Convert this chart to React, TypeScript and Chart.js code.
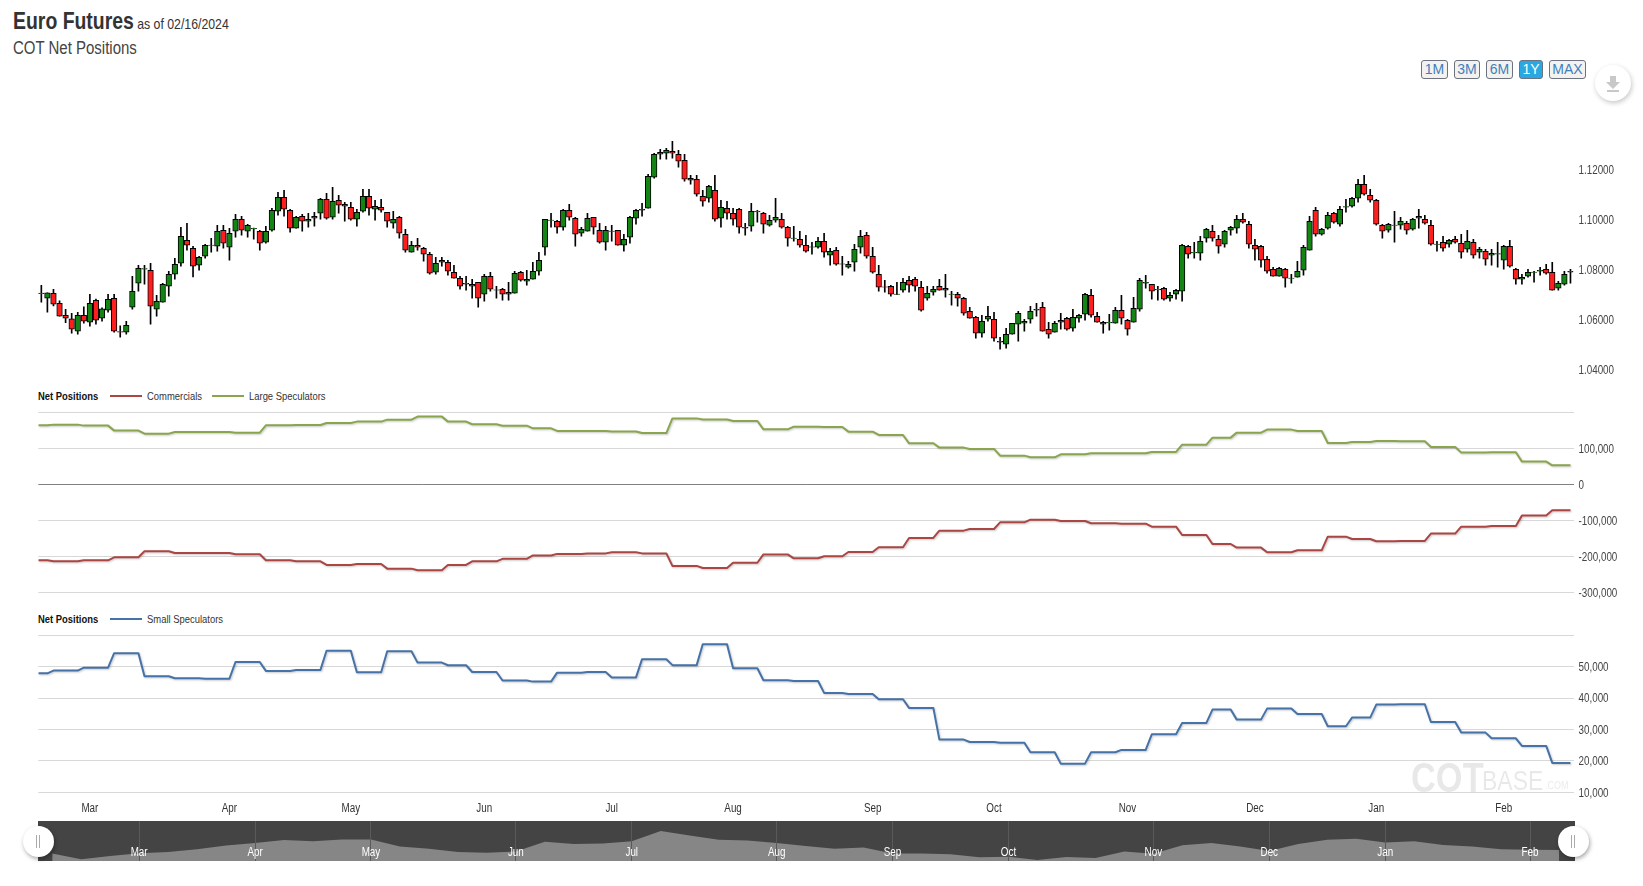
import React, { useEffect, useRef } from "react";
import { Chart, registerables } from "chart.js";

Chart.register(...registerables);

const FONT = '"Liberation Sans", Arial, sans-serif';
const NARROW = 0.82;

const opens = [
1.0705,1.0687,1.0707,1.0667,1.0619,1.0605,1.0555,1.0619,1.0591,1.0679,
1.0607,1.0639,1.0687,1.0554,1.0551,1.0651,1.0747,1.0803,1.0799,1.0643,
1.0671,1.0735,1.0783,1.0827,1.0919,1.0887,1.0819,1.0855,1.0898,1.0895,
1.0959,1.0891,1.0955,1.1003,1.0955,1.0964,1.0955,1.0911,1.0959,1.1035,
1.1091,1.1039,1.0967,1.1015,1.0995,1.1007,1.1027,1.1083,1.1011,1.1079,
1.1063,1.1051,1.1003,1.1035,1.1095,1.1043,1.1051,1.1031,1.0987,1.1011,
1.0943,1.0871,1.0899,1.0887,1.0863,1.0791,1.0831,1.0831,1.0791,1.0767,
1.0747,1.0743,1.0751,1.0703,1.0775,1.0719,1.0723,1.0703,1.0707,1.0791,
1.0755,1.0763,1.0795,1.0891,1.0998,1.0995,1.0971,1.1039,1.1007,1.0947,
1.0955,1.1011,1.0959,1.0911,1.0954,1.0959,1.0899,1.0931,1.1007,1.1039,
1.1047,1.1171,1.1263,1.1267,1.1275,1.1263,1.1239,1.1167,1.1163,1.1095,
1.1087,1.1119,1.1007,1.1047,1.1027,1.1043,1.0971,1.0975,1.1032,1.1027,
1.0979,1.0999,1.1003,1.0971,1.0926,1.0923,1.0899,1.0891,1.0891,1.0915,
1.0859,1.0879,1.0823,1.0811,1.0831,1.0891,1.0939,1.0855,1.0783,1.0733,
1.0735,1.0702,1.0719,1.0759,1.0763,1.0731,1.0687,1.0711,1.0735,1.0719,
1.0702,1.0703,1.0687,1.0635,1.0611,1.0547,1.0603,1.0603,1.0511,1.0503,
1.0543,1.0583,1.0587,1.0603,1.0639,1.0651,1.0563,1.0551,1.0591,1.0607,
1.0567,1.0607,1.0623,1.0699,1.0615,1.0591,1.0588,1.0587,1.0639,1.0599,
1.0591,1.0643,1.0747,1.0743,1.0723,1.0727,1.0687,1.0703,1.0715,1.0895,
1.0868,1.0867,1.0927,1.0955,1.0923,1.0903,1.0959,1.0967,1.1003,1.0983,
1.0899,1.0895,1.0843,1.0803,1.0775,1.0803,1.0766,1.0771,1.0799,1.0879,
1.1039,1.0943,1.0967,1.1027,1.0983,1.1051,1.1055,1.1087,1.1143,1.1099,
1.1079,1.0979,1.0959,1.0978,1.0979,1.0987,1.0963,1.1007,1.1003,1.0979,
1.0902,1.0911,1.0903,1.0923,1.0907,1.0883,1.0911,1.0871,1.0875,1.0859,
1.0863,1.0839,1.0895,1.0803,1.0763,1.0775,1.0790,1.0795,1.0803,1.0791,
1.0727,1.0743,1.0791];

const closes = [
1.0708,1.0709,1.0663,1.0615,1.0607,1.0563,1.0619,1.0595,1.0667,1.0599,
1.0645,1.0683,1.0555,1.0551,1.0579,1.0715,1.0807,1.0806,1.0655,1.0675,
1.0743,1.0783,1.0823,1.0935,1.0899,1.0815,1.0851,1.0899,1.0900,1.0955,
1.0907,1.0947,1.1003,1.0959,1.0979,1.0967,1.0907,1.0955,1.1039,1.1091,
1.1043,1.0967,1.1011,1.0995,1.1003,1.1015,1.1083,1.1007,1.1075,1.1059,
1.1055,1.1003,1.1031,1.1095,1.1047,1.1055,1.1039,1.0995,1.1003,1.0947,
1.0879,1.0899,1.0891,1.0863,1.0787,1.0827,1.0839,1.0795,1.0767,1.0735,
1.0743,1.0735,1.0687,1.0775,1.0723,1.0721,1.0703,1.0711,1.0787,1.0759,
1.0763,1.0795,1.0839,1.1003,1.1000,1.0971,1.1039,1.1011,1.0943,1.0963,
1.1007,1.0971,1.0911,1.0959,1.0956,1.0899,1.0923,1.1011,1.1039,1.1043,
1.1175,1.1263,1.1271,1.1279,1.1267,1.1235,1.1163,1.1159,1.1103,1.1075,
1.1135,1.1003,1.1051,1.1027,1.1003,1.0971,1.0967,1.1035,1.1035,1.0983,
1.0999,1.1011,1.0971,1.0927,1.0928,1.0899,1.0875,1.0893,1.0915,1.0871,
1.0875,1.0823,1.0825,1.0823,1.0883,1.0935,1.0855,1.0791,1.0731,1.0731,
1.0703,1.0704,1.0751,1.0739,1.0735,1.0639,1.0707,1.0723,1.0719,1.0727,
1.0704,1.0687,1.0627,1.0607,1.0547,1.0595,1.0615,1.0527,1.0515,1.0543,
1.0587,1.0627,1.0595,1.0635,1.0643,1.0555,1.0543,1.0587,1.0599,1.0563,
1.0611,1.0619,1.0703,1.0619,1.0591,1.0583,1.0591,1.0639,1.0607,1.0563,
1.0647,1.0759,1.0751,1.0715,1.0720,1.0683,1.0699,1.0719,1.0899,1.0863,
1.0871,1.0915,1.0963,1.0927,1.0895,1.0955,1.0971,1.1003,1.0991,1.0903,
1.0883,1.0839,1.0795,1.0775,1.0807,1.0767,1.0768,1.0795,1.0891,1.0995,
1.0943,1.0963,1.1019,1.0991,1.1043,1.1054,1.1087,1.1143,1.1103,1.1079,
1.0983,1.0955,1.0983,1.0980,1.0995,1.0959,1.1003,1.1015,1.0987,1.0903,
1.0904,1.0887,1.0919,1.0911,1.0871,1.0915,1.0859,1.0883,1.0843,1.0867,
1.0866,1.0895,1.0815,1.0763,1.0771,1.0791,1.0792,1.0799,1.0787,1.0719,
1.0747,1.0783,1.0795];

const highs = [
1.0739,1.0709,1.0723,1.0677,1.0643,1.0627,1.0631,1.0653,1.0703,1.0684,
1.0649,1.0703,1.0703,1.0577,1.0595,1.0775,1.0819,1.0819,1.0827,1.0699,
1.0747,1.0795,1.0847,1.0971,1.0987,1.0895,1.0855,1.0903,1.0927,1.0979,
1.0979,1.0967,1.1023,1.1015,1.0983,1.0968,1.0959,1.0975,1.1047,1.1111,
1.1119,1.1043,1.1015,1.1023,1.1027,1.1031,1.1087,1.1107,1.1131,1.1099,
1.1071,1.1071,1.1043,1.1123,1.1123,1.1079,1.1083,1.1031,1.1035,1.1015,
1.0963,1.0915,1.0927,1.0891,1.0871,1.0851,1.0851,1.0839,1.0819,1.0775,
1.0775,1.0763,1.0751,1.0783,1.0791,1.0735,1.0727,1.0751,1.0795,1.0795,
1.0799,1.0831,1.0871,1.1003,1.1027,1.0999,1.1043,1.1063,1.1011,1.0971,
1.1027,1.1011,1.0987,1.0975,1.0979,1.0959,1.0943,1.1015,1.1043,1.1067,
1.1183,1.1267,1.1283,1.1287,1.1315,1.1279,1.1263,1.1179,1.1179,1.1119,
1.1139,1.1179,1.1079,1.1075,1.1047,1.1047,1.0987,1.1067,1.1039,1.1031,
1.1019,1.1087,1.1027,1.0975,1.0975,1.0955,1.0939,1.0911,1.0931,1.0947,
1.0887,1.0891,1.0855,1.0835,1.0903,1.0959,1.0951,1.0891,1.0819,1.0759,
1.0739,1.0751,1.0767,1.0775,1.0771,1.0755,1.0735,1.0735,1.0763,1.0783,
1.0715,1.0711,1.0691,1.0651,1.0615,1.0619,1.0655,1.0631,1.0531,1.0567,
1.0587,1.0635,1.0603,1.0655,1.0667,1.0671,1.0591,1.0595,1.0627,1.0611,
1.0643,1.0623,1.0707,1.0723,1.0631,1.0595,1.0623,1.0651,1.0699,1.0603,
1.0691,1.0767,1.0779,1.0743,1.0735,1.0731,1.0711,1.0723,1.0903,1.0899,
1.0911,1.0935,1.0967,1.0979,1.0939,1.0959,1.0975,1.1019,1.1027,1.0995,
1.0923,1.0899,1.0855,1.0811,1.0811,1.0807,1.0783,1.0835,1.0899,1.1015,
1.1051,1.0967,1.1031,1.1031,1.1055,1.1083,1.1091,1.1163,1.1179,1.1123,
1.1083,1.0983,1.0987,1.1035,1.1011,1.0995,1.1007,1.1043,1.1019,1.0999,
1.0915,1.0935,1.0923,1.0935,1.0943,1.0959,1.0923,1.0891,1.0883,1.0883,
1.0911,1.0899,1.0919,1.0807,1.0783,1.0803,1.0795,1.0811,1.0823,1.0831,
1.0755,1.0795,1.0803];

const lows = [
1.0671,1.0631,1.0656,1.0615,1.0589,1.0547,1.0543,1.0587,1.0575,1.0583,
1.0595,1.0631,1.0551,1.0531,1.0543,1.0643,1.0715,1.0743,1.0583,1.0615,
1.0671,1.0695,1.0763,1.0815,1.0879,1.0772,1.0799,1.0847,1.0871,1.0875,
1.0887,1.0839,1.0931,1.0939,1.0931,1.0923,1.0879,1.0907,1.0955,1.1019,
1.1015,1.0951,1.0967,1.0955,1.0971,1.0975,1.1003,1.1003,1.1003,1.1027,
1.0995,1.0999,1.0975,1.1031,1.1019,1.0999,1.1031,1.0971,1.0967,1.0927,
1.0871,1.0871,1.0879,1.0835,1.0783,1.0783,1.0815,1.0779,1.0767,1.0723,
1.0719,1.0687,1.0651,1.0675,1.0715,1.0687,1.0679,1.0679,1.0707,1.0755,
1.0739,1.0763,1.0779,1.0859,1.0971,1.0947,1.0959,1.0999,1.0895,1.0935,
1.0955,1.0943,1.0907,1.0879,1.0915,1.0899,1.0875,1.0907,1.0983,1.1015,
1.1047,1.1167,1.1243,1.1243,1.1247,1.1211,1.1155,1.1143,1.1095,1.1055,
1.1071,1.0995,1.0971,1.1003,1.0979,1.0947,1.0939,1.0955,1.0991,1.0947,
1.0975,1.0991,1.0967,1.0895,1.0915,1.0891,1.0871,1.0863,1.0887,1.0851,
1.0819,1.0819,1.0779,1.0807,1.0795,1.0867,1.0847,1.0787,1.0715,1.0711,
1.0695,1.0701,1.0711,1.0711,1.0715,1.0635,1.0679,1.0699,1.0719,1.0691,
1.0659,1.0655,1.0619,1.0607,1.0527,1.0531,1.0595,1.0515,1.0483,1.0487,
1.0543,1.0515,1.0555,1.0587,1.0615,1.0555,1.0527,1.0551,1.0563,1.0559,
1.0555,1.0591,1.0599,1.0611,1.0591,1.0547,1.0559,1.0587,1.0583,1.0539,
1.0591,1.0635,1.0727,1.0683,1.0679,1.0679,1.0675,1.0683,1.0675,1.0847,
1.0847,1.0839,1.0911,1.0915,1.0867,1.0891,1.0939,1.0947,1.0987,1.0887,
1.0839,1.0811,1.0787,1.0775,1.0775,1.0731,1.0747,1.0771,1.0779,1.0879,
1.0935,1.0939,1.0963,1.0987,1.0975,1.1031,1.1051,1.1071,1.1099,1.1071,
1.0979,1.0927,1.0951,1.0911,1.0963,1.0943,1.0959,1.0967,1.0983,1.0899,
1.0875,1.0875,1.0891,1.0907,1.0847,1.0871,1.0847,1.0847,1.0819,1.0819,
1.0811,1.0803,1.0811,1.0743,1.0743,1.0771,1.0751,1.0779,1.0783,1.0719,
1.0719,1.0739,1.0747];

const weekStarts = [-0.5,2,7,12,17,22,27,32,37,42,47,52,57,62,67,71,76,81,85,90,94,99,104,109,114,119,124,129,133,138,143,148,153,158,163,168,173,178,183,188,193,197,202,207,212,216,220,224,229,234,239,244,249];

const smallSpeculators = [47900,48760,49700,54300,46960,46300,46200,51500,48660,48980,55100,48230,54900,51300,50460,48300,45600,45250,48100,48300,46600,52400,50500,57150,49500,45700,45470,41650,41330,39630,36870,26780,26030,25800,22740,19130,22740,23490,28480,32090,36340,33150,36650,34960,31030,33790,37930,38040,32400,29010,27200,24760,19350];

const largeSpeculators = [163900,165750,163000,149100,140750,145400,145400,143500,163900,164800,170400,174100,179600,188000,174100,166700,162800,155500,148300,148300,146800,142400,183100,180200,175900,152600,160200,159300,146300,137000,113900,101900,98200,79600,75000,83300,86100,86100,89800,110200,129600,143500,151900,148200,114800,117600,120400,119500,103700,88000,88900,63000,52800];

const commercials = [-211100,-213900,-211100,-202800,-186100,-190800,-190800,-194500,-211100,-213900,-224100,-221300,-234300,-238900,-224100,-213900,-207000,-197700,-193300,-191900,-189000,-191900,-226700,-232600,-218000,-194800,-205600,-200000,-188000,-175000,-149100,-128700,-124100,-105600,-98200,-101900,-108300,-109300,-117600,-140800,-165800,-175900,-188900,-183300,-145400,-151900,-158300,-157400,-137000,-117600,-115700,-87000,-72200];

const navigatorCloses = [1.0709,1.0563,1.0645,1.0715,1.0743,1.0815,1.0907,1.0967,1.1043,1.1015,1.1055,1.1055,1.0879,1.0827,1.0743,1.0723,1.0759,1.1000,1.0943,1.0959,1.1011,1.1271,1.1159,1.1051,1.1035,1.0971,1.0893,1.0825,1.0855,1.0704,1.0707,1.0687,1.0615,1.0627,1.0543,1.0619,1.0591,1.0759,1.0699,1.0915,1.0971,1.0883,1.0767,1.0943,1.1054,1.1079,1.0980,1.1015,1.0919,1.0883,1.0815,1.0799,1.0795];

const monthLabels = ["Mar","Apr","May","Jun","Jul","Aug","Sep","Oct","Nov","Dec","Jan","Feb"];
const monthDayIndex = [8,31,51,73,94,114,137,157,179,200,220,241];
const monthWeekIndex = [3,7,11,16,20,25,29,33,38,42,46,51];
const priceTicks = [1.04,1.06,1.08,1.10,1.12];
const rangeButtons = ["1M","3M","6M","1Y","MAX"];

const GRID = "#D8D8D8";
const RED = "#AA4643";
const GREEN = "#89A54E";
const BLUE = "#4572A7";
const PLOT_LEFT = 38.3;
const AXIS_W = 69.5;
const X_MIN = -0.5;
const X_MAX = 252.5;

function weekly(values: number[]) {
  const pts: { x: number; y: number }[] = [];
  values.forEach((y, w) => {
    const end = w + 1 < weekStarts.length ? weekStarts[w + 1] - 1 : 252;
    pts.push({ x: weekStarts[w], y }, { x: end, y });
  });
  return pts;
}

// The reference text is a condensed face: every canvas label is squeezed around its anchor.
const narrowText = {
  id: "narrowText",
  beforeDraw(chart: any) {
    const c = chart.ctx;
    if (c.__narrow) return;
    c.__narrow = true;
    const orig = c.fillText.bind(c);
    c.fillText = (t: string, x: number, y: number) => {
      c.save();
      c.translate(x, y);
      c.scale(NARROW, 1);
      orig(t, 0, c.textAlign === "left" ? 1 : 0);
      c.restore();
    };
  },
};

const lineShadow = {
  id: "lineShadow",
  beforeDatasetDraw(chart: any) {
    const c = chart.ctx;
    c.save();
    c.shadowColor = "rgba(0,0,0,0.22)";
    c.shadowBlur = 2;
    c.shadowOffsetX = 1;
    c.shadowOffsetY = 1;
  },
  afterDatasetDraw(chart: any) {
    chart.ctx.restore();
  },
};

const navLabels = {
  id: "navLabels",
  afterDraw(chart: any) {
    const c = chart.ctx;
    const sx = chart.scales.x;
    c.save();
    c.font = `12px ${FONT}`;
    c.fillStyle = "#fff";
    c.textAlign = "center";
    c.textBaseline = "middle";
    monthLabels.forEach((m, i) => c.fillText(m, sx.getPixelForValue(monthWeekIndex[i]), 31.5));
    c.restore();
  },
};

const fixedWidth = (s: any) => {
  s.width = AXIS_W;
};

function lineSet(label: string, values: number[], color: string) {
  return {
    label,
    data: weekly(values),
    borderColor: color,
    backgroundColor: color,
    borderWidth: 2,
    pointRadius: 0,
    tension: 0,
    borderJoinStyle: "round" as const,
  };
}

const hiddenX = { type: "linear" as const, min: X_MIN, max: X_MAX, display: false, offset: false };
const tickFont = { family: FONT, size: 12 };

function yAxis(min: number, max: number, step: number, hideTop: boolean) {
  return {
    type: "linear" as const,
    position: "right" as const,
    min,
    max,
    afterFit: fixedWidth,
    border: { display: false },
    grid: {
      drawTicks: false,
      color: (c: any) => (c.tick && c.tick.value === 0 ? "#808080" : GRID),
      lineWidth: 1,
    },
    ticks: {
      stepSize: step,
      crossAlign: "near" as const,
      padding: 5,
      color: "#444",
      font: tickFont,
      callback: (v: any) => (hideTop && v === max ? "" : Number(v).toLocaleString("en-US")),
    },
  };
}

const base = { responsive: false, animation: false as const, events: [] as any[] };

export default function App() {
  const priceRef = useRef<HTMLCanvasElement>(null);
  const netRef = useRef<HTMLCanvasElement>(null);
  const smallRef = useRef<HTMLCanvasElement>(null);
  const navRef = useRef<HTMLCanvasElement>(null);

  useEffect(() => {
    const charts: Chart[] = [];
    const idx = opens.map((_, i) => i);

    charts.push(
      new Chart(priceRef.current!, {
        type: "bar",
        data: {
          datasets: [
            {
              label: "Body",
              order: 1,
              data: idx.map((i) => ({ x: i, y: [opens[i], closes[i]] })) as any,
              backgroundColor: idx.map((i) => (closes[i] >= opens[i] ? "#148514" : "#FF1E1E")),
              borderColor: "#000",
              borderWidth: 1,
              borderSkipped: false,
              barThickness: 5.6,
              grouped: false,
            },
            {
              label: "Range",
              order: 2,
              data: idx.map((i) => ({ x: i, y: [lows[i], highs[i]] })) as any,
              backgroundColor: "#000",
              borderWidth: 0,
              barThickness: 1,
              grouped: false,
            },
          ],
        },
        options: {
          ...base,
          layout: { autoPadding: false, padding: { left: PLOT_LEFT, top: 20, bottom: 20 } },
          plugins: { legend: { display: false }, tooltip: { enabled: false } },
          scales: {
            x: hiddenX,
            y: {
              type: "linear",
              position: "right",
              min: 1.034,
              max: 1.148,
              afterFit: fixedWidth,
              afterBuildTicks: (s: any) => {
                s.ticks = priceTicks.map((value) => ({ value }));
              },
              border: { display: false },
              grid: { display: false, drawTicks: false },
              ticks: {
                crossAlign: "near",
                padding: 5,
                color: "#444",
                font: tickFont,
                callback: (v: any) => Number(v).toFixed(5),
              },
            },
          },
        } as any,
        plugins: [narrowText],
      })
    );

    charts.push(
      new Chart(netRef.current!, {
        type: "line",
        data: { datasets: [lineSet("Commercials", commercials, RED), lineSet("Large Speculators", largeSpeculators, GREEN)] },
        options: {
          ...base,
          layout: { autoPadding: false, padding: { left: PLOT_LEFT, top: 22.3, bottom: 22.7 } },
          plugins: { legend: { display: false }, tooltip: { enabled: false } },
          scales: { x: hiddenX, y: yAxis(-300000, 200000, 100000, true) },
        } as any,
        plugins: [lineShadow, narrowText],
      })
    );

    charts.push(
      new Chart(smallRef.current!, {
        type: "line",
        data: { datasets: [lineSet("Small Speculators", smallSpeculators, BLUE)] },
        options: {
          ...base,
          layout: { autoPadding: false, padding: { left: PLOT_LEFT, top: 25.3, bottom: 0 } },
          plugins: { legend: { display: false }, tooltip: { enabled: false } },
          scales: {
            x: {
              type: "linear",
              min: X_MIN,
              max: X_MAX,
              afterBuildTicks: (s: any) => {
                s.ticks = monthDayIndex.map((value) => ({ value }));
              },
              afterFit: (s: any) => {
                s.height = 27.7;
              },
              border: { display: false },
              grid: { display: false, drawTicks: false },
              ticks: {
                autoSkip: false,
                maxRotation: 0,
                padding: 9,
                color: "#333",
                font: { family: FONT, size: 12 },
                callback: (v: any) => monthLabels[monthDayIndex.indexOf(v)],
              },
            },
            y: yAxis(10000, 60000, 10000, true),
          },
        } as any,
        plugins: [lineShadow, narrowText],
      })
    );

    charts.push(
      new Chart(navRef.current!, {
        type: "line",
        data: {
          datasets: [
            {
              label: "Navigator",
              data: navigatorCloses.map((y, x) => ({ x, y })),
              borderWidth: 0,
              pointRadius: 0,
              fill: "start",
              backgroundColor: "#868686",
              tension: 0,
            },
          ],
        },
        options: {
          ...base,
          layout: { autoPadding: false, padding: { left: 38, right: 68 } },
          plugins: { legend: { display: false }, tooltip: { enabled: false } },
          scales: {
            y: { type: "linear", display: false, min: 1.0518, max: 1.1522 },
            x: {
              type: "linear",
              min: -0.49,
              max: 52.55,
              afterBuildTicks: (s: any) => {
                s.ticks = monthWeekIndex.map((value) => ({ value }));
              },
              afterFit: (s: any) => {
                s.height = 0;
              },
              border: { display: false },
              grid: { color: "#5a5a5a", drawTicks: false, z: 1 },
              ticks: { display: false },
            },
          },
        } as any,
        plugins: [narrowText, navLabels],
      })
    );

    return () => charts.forEach((c) => c.destroy());
  }, []);

  const abs = (left: number, top: number, extra: any = {}): any => ({
    position: "absolute",
    left,
    top,
    fontFamily: FONT,
    whiteSpace: "nowrap",
    transform: `scaleX(${NARROW})`,
    transformOrigin: "left top",
    ...extra,
  });
  const canvasStyle = (top: number, height: number): any => ({ position: "absolute", left: 0, top, width: 1643, height });

  const buttons = [
    { l: 1421, w: 27 },
    { l: 1454, w: 26 },
    { l: 1486, w: 27 },
    { l: 1519, w: 24 },
    { l: 1549, w: 37 },
  ];

  const handle = (cx: number) => (
    <div
      style={{
        position: "absolute",
        left: cx - 15.5,
        top: 841.3 - 15.5,
        width: 31,
        height: 31,
        borderRadius: "50%",
        background: "#fff",
        boxShadow: "1px 2px 4px rgba(0,0,0,0.35)",
      }}
    >
      <div style={{ position: "absolute", left: 13, top: 9, width: 1, height: 13, background: "#aaa" }} />
      <div style={{ position: "absolute", left: 16, top: 9, width: 1, height: 13, background: "#aaa" }} />
    </div>
  );

  const legendLine = (left: number, top: number, color: string) => (
    <div style={{ position: "absolute", left, top, width: 32, height: 2, background: color }} />
  );

  return (
    <div style={{ position: "absolute", left: 0, top: 0, width: 1643, height: 886, overflow: "hidden", background: "#fff" }}>
      <div style={abs(13, 6, { fontSize: 23.7, lineHeight: "30px", color: "#333", fontWeight: 700 })}>
        Euro Futures
        <span style={{ fontSize: 15, fontWeight: 400, marginLeft: 4 }}>as of 02/16/2024</span>
      </div>
      <div style={abs(13, 36, { fontSize: 18.3, lineHeight: "24px", color: "#444" })}>COT Net Positions</div>

      {rangeButtons.map((b, i) => (
        <div
          key={b}
          style={abs(buttons[i].l, 60, {
            width: buttons[i].w,
            height: 19,
            boxSizing: "border-box",
            border: "1px solid #6b7280",
            borderRadius: 3,
            background: b === "1Y" ? "#29A9E1" : "#F3F2EF",
            color: b === "1Y" ? "#fff" : "#3F7FBF",
            fontSize: 14,
            lineHeight: "17px",
            textAlign: "center",
            transform: "none",
          })}
        >
          {b}
        </div>
      ))}

      <div
        style={{
          position: "absolute",
          left: 1595,
          top: 65,
          width: 36,
          height: 36,
          borderRadius: "50%",
          background: "#fff",
          boxShadow: "1px 2px 5px rgba(0,0,0,0.22)",
        }}
      >
        <svg width="36" height="36" viewBox="0 0 36 36">
          <path d="M15 11h6v6h4l-7 7-7-7h4z" fill="#C8C8C8" />
          <rect x="12" y="25" width="12" height="2" fill="#C8C8C8" />
        </svg>
      </div>

      <div style={abs(38, 389, { fontSize: 11.5, lineHeight: "14px", fontWeight: 700, color: "#111" })}>Net Positions</div>
      {legendLine(110, 395, RED)}
      <div style={abs(147, 389, { fontSize: 11.5, lineHeight: "14px", color: "#333" })}>Commercials</div>
      {legendLine(212, 395, GREEN)}
      <div style={abs(249, 389, { fontSize: 11.5, lineHeight: "14px", color: "#333" })}>Large Speculators</div>

      <div style={abs(38, 612, { fontSize: 11.5, lineHeight: "14px", fontWeight: 700, color: "#111" })}>Net Positions</div>
      {legendLine(110, 618, BLUE)}
      <div style={abs(147, 612, { fontSize: 11.5, lineHeight: "14px", color: "#333" })}>Small Speculators</div>

      <canvas ref={priceRef} width={1643} height={325} style={canvasStyle(80, 325)} />
      <canvas ref={netRef} width={1643} height={225} style={canvasStyle(390, 225)} />
      <canvas ref={smallRef} width={1643} height={210} style={canvasStyle(610, 210)} />
      <canvas ref={navRef} width={1643} height={40} style={{ ...canvasStyle(821, 40), background: "linear-gradient(to right, transparent 38px, #444 38px, #444 1575px, transparent 1575px)" }} />

      <div style={abs(1411, 756, { fontSize: 42, lineHeight: "44px", fontWeight: 700, color: "rgba(0,0,0,0.09)" })}>COT</div>
      <div style={abs(1482, 765, { fontSize: 28, lineHeight: "32px", color: "rgba(0,0,0,0.09)" })}>BASE</div>
      <div style={abs(1545, 776, { fontSize: 11, lineHeight: "18px", color: "rgba(0,0,0,0.09)" })}>.COM</div>

      {handle(38.3)}
      {handle(1573.7)}
    </div>
  );
}
